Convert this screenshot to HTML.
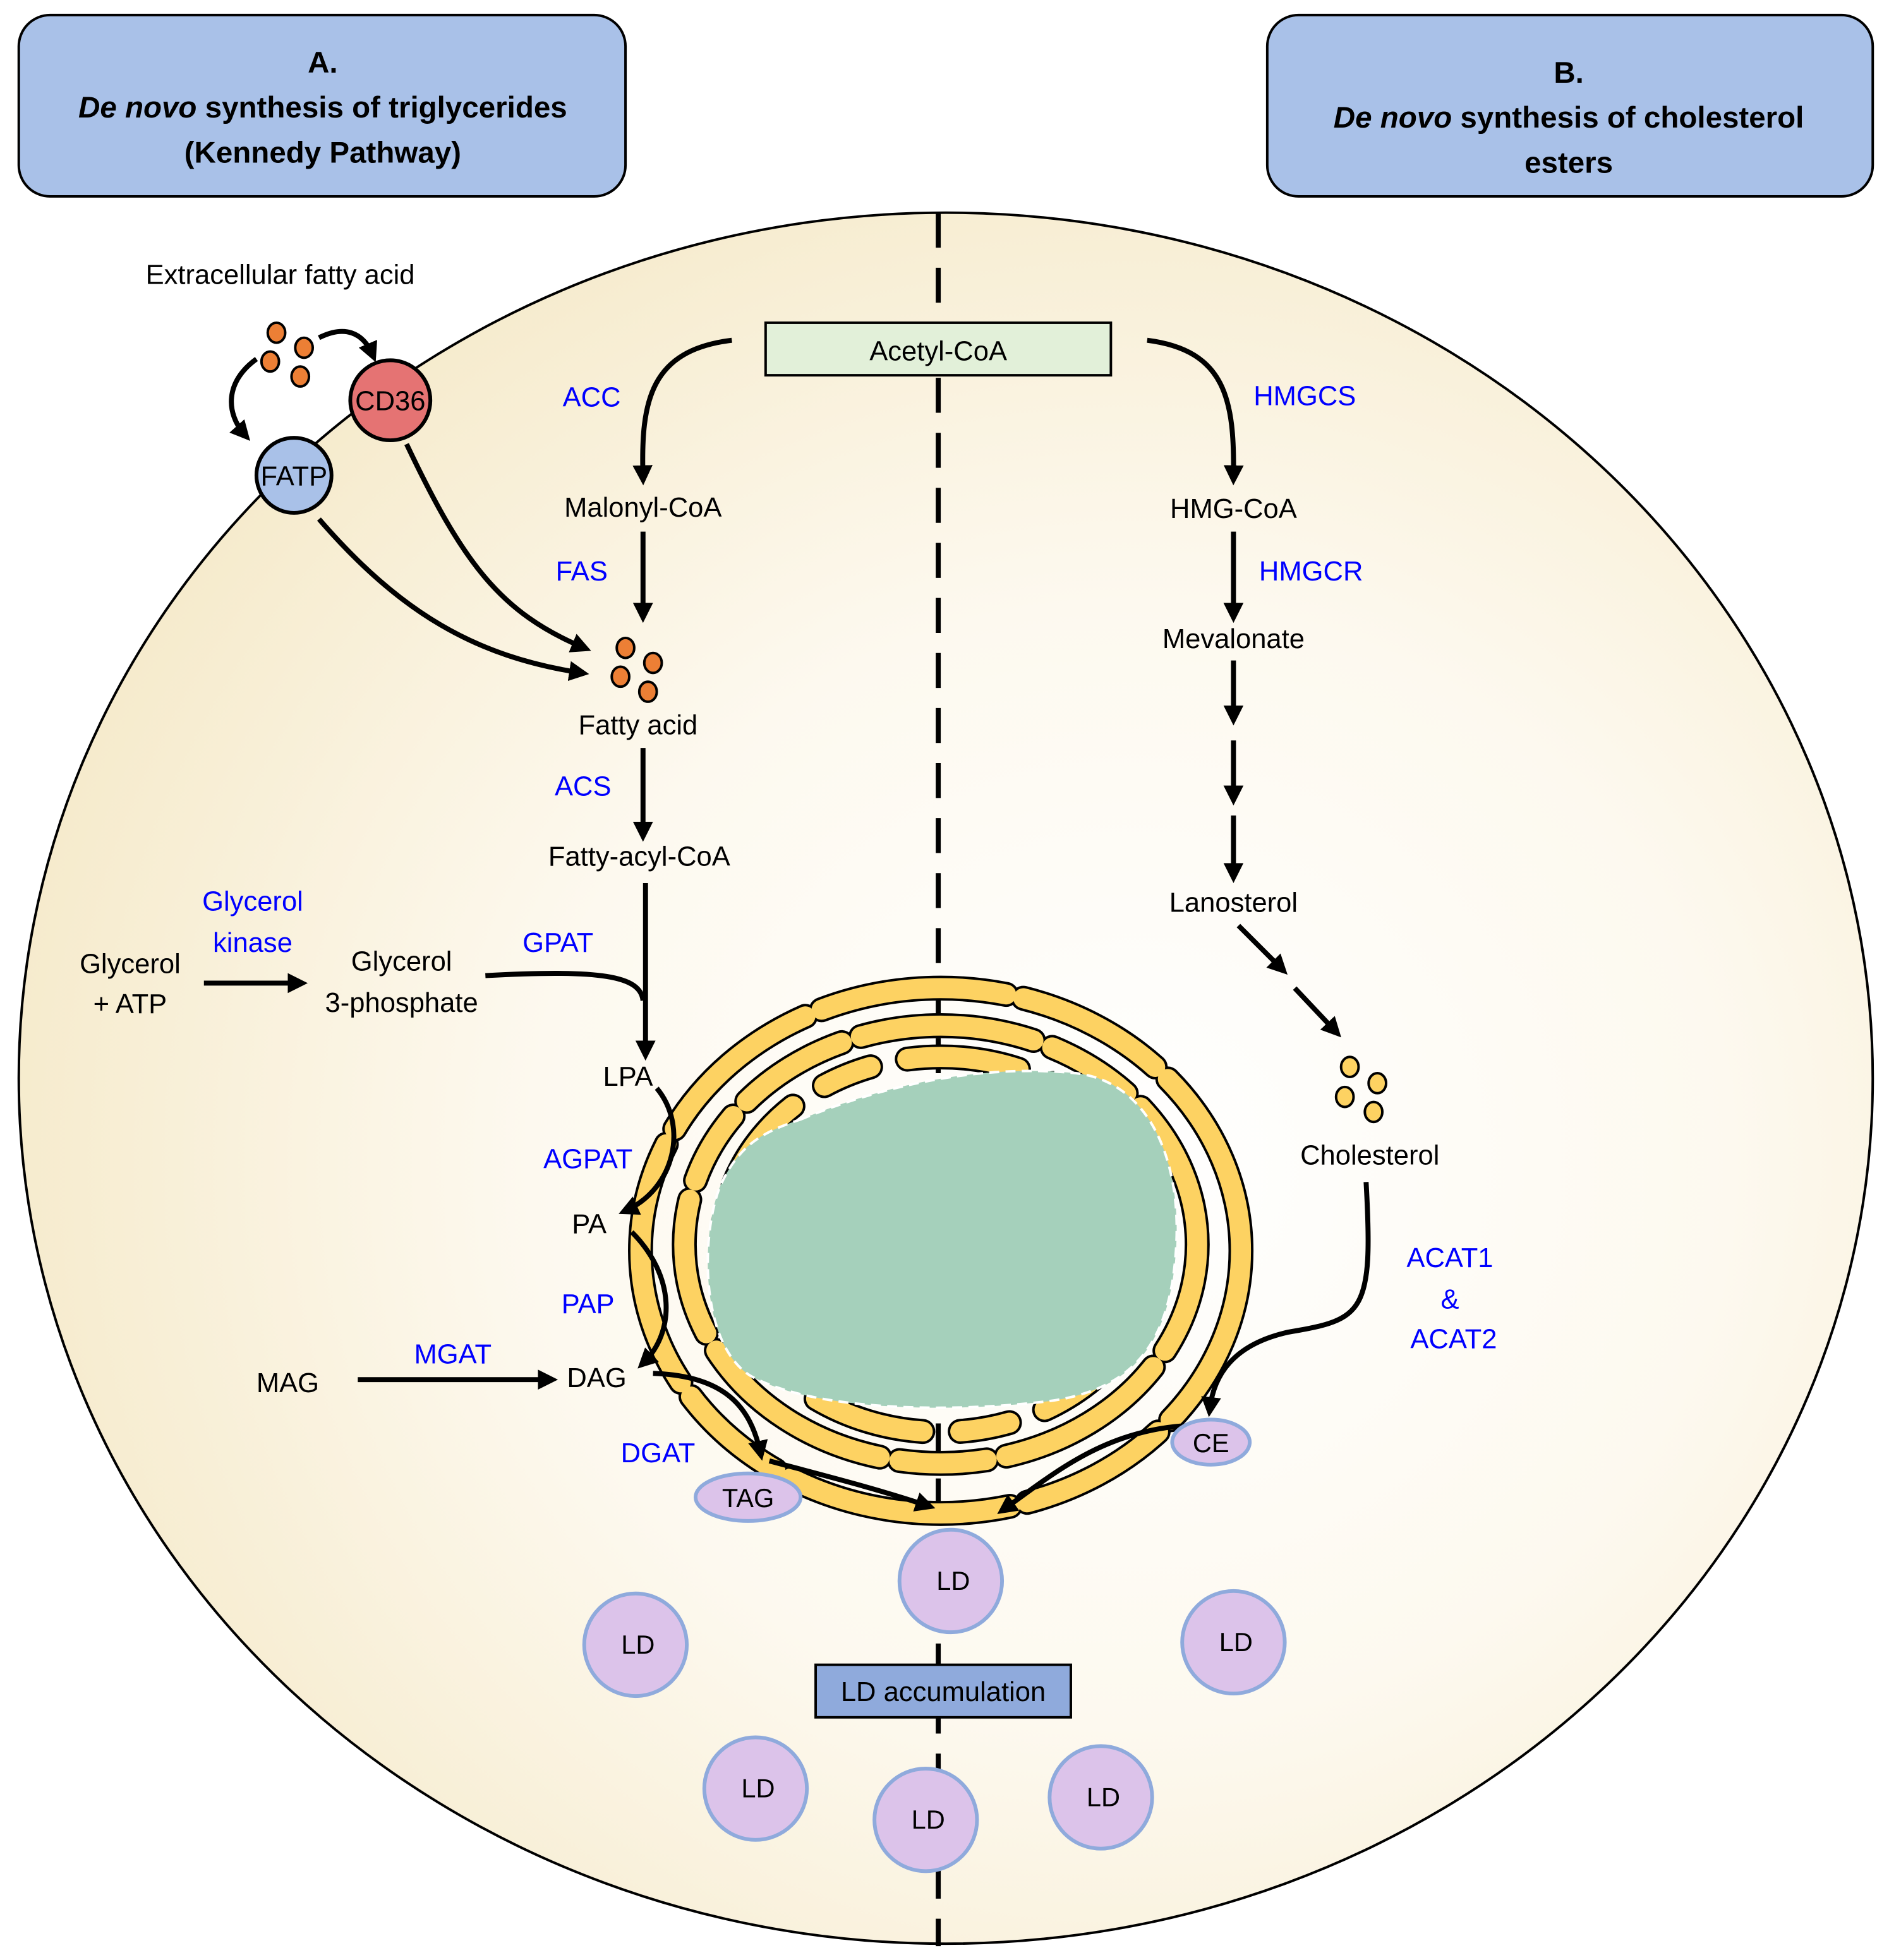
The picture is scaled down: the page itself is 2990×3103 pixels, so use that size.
<!DOCTYPE html>
<html><head><meta charset="utf-8"><style>
html,body{margin:0;padding:0;background:#fff;}
svg{display:block;}
text{font-family:"Liberation Sans","DejaVu Sans",sans-serif;}
</style></head><body>
<svg width="2990" height="3103" viewBox="0 0 1510 1567" xmlns="http://www.w3.org/2000/svg">
<defs>
<radialGradient id="cg" cx="0.6" cy="0.55" r="0.65">
<stop offset="0" stop-color="#ffffff"/><stop offset="0.5" stop-color="#fdf9ef"/><stop offset="1" stop-color="#f5e9c8"/>
</radialGradient>
<marker id="ah" markerWidth="4" markerHeight="4" refX="2.5" refY="2" orient="auto" markerUnits="strokeWidth">
<path d="M0,0 L4,2 L0,4 z" fill="#000"/></marker>
</defs>
<rect width="1510" height="1567" fill="#fff"/>
<rect x="15" y="12" width="485" height="145" rx="25" fill="#a9c1e8" stroke="#000" stroke-width="2"/>
<rect x="1013" y="12" width="484" height="145" rx="25" fill="#a9c1e8" stroke="#000" stroke-width="2"/>
<g font-size="24" font-weight="bold" text-anchor="middle" fill="#000">
<text x="258" y="58">A.</text>
<text x="258" y="94"><tspan font-style="italic">De novo</tspan> synthesis of triglycerides</text>
<text x="258" y="130">(Kennedy Pathway)</text>
<text x="1254" y="66">B.</text>
<text x="1254" y="102"><tspan font-style="italic">De novo</tspan> synthesis of cholesterol</text>
<text x="1254" y="138">esters</text>
</g>
<ellipse cx="756" cy="862" rx="741" ry="692" fill="url(#cg)" stroke="#000" stroke-width="2"/>
<line x1="750" y1="170" x2="750" y2="1556" stroke="#000" stroke-width="4" stroke-dasharray="28 16"/>

<g fill="none" stroke-linecap="round">
<g stroke="#000" stroke-width="20">
<ellipse cx="752" cy="1000" rx="240" ry="210" stroke-dasharray="150 14 120 14 180 14 90 14 200 14 140 14"/>
<ellipse cx="752" cy="995" rx="205" ry="175" stroke-dasharray="90 16 140 16 70 16 160 16 110 16 60 16"/>
<ellipse cx="752" cy="995" rx="175" ry="150" stroke-dasharray="60 30 80 30 40 30 90 30 50 30"/>
</g>
<g stroke="#fdd262" stroke-width="16">
<ellipse cx="752" cy="1000" rx="240" ry="210" stroke-dasharray="150 14 120 14 180 14 90 14 200 14 140 14"/>
<ellipse cx="752" cy="995" rx="205" ry="175" stroke-dasharray="90 16 140 16 70 16 160 16 110 16 60 16"/>
<ellipse cx="752" cy="995" rx="175" ry="150" stroke-dasharray="60 30 80 30 40 30 90 30 50 30"/>
</g>
</g>
<path d="M640,895 C700,870 780,850 860,858 C920,865 945,930 940,1000 C935,1070 910,1110 840,1120 C760,1130 650,1128 600,1100 C560,1075 560,990 575,950 C590,915 610,905 640,895 Z" fill="#a5d0bb" stroke="#fff" stroke-width="2" stroke-dasharray="8 5"/>

<rect x="612" y="258" width="276" height="42" fill="#e2f0d9" stroke="#000" stroke-width="2"/>
<text x="750" y="288" font-size="22" text-anchor="middle">Acetyl-CoA</text>

<g fill="none" stroke="#000" stroke-width="4">
<path d="M585,272 C520,280 512,320 514,382" marker-end="url(#ah)"/>
<path d="M917,272 C980,280 987,320 986,382" marker-end="url(#ah)"/>
<path d="M514,425 L514,492" marker-end="url(#ah)"/>
<path d="M514,598 L514,667" marker-end="url(#ah)"/>
<path d="M516,706 L516,842" marker-end="url(#ah)"/>
<path d="M388,780 C480,775 512,780 514,800"/>
<path d="M986,425 L986,492" marker-end="url(#ah)"/>
<path d="M986,528 L986,574" marker-end="url(#ah)"/>
<path d="M986,592 L986,638" marker-end="url(#ah)"/>
<path d="M986,652 L986,700" marker-end="url(#ah)"/>
<path d="M990,740 L1025,775" marker-end="url(#ah)"/>
<path d="M1035,790 L1068,825" marker-end="url(#ah)"/>
<path d="M163,786 L240,786" marker-end="url(#ah)"/>
<path d="M286,1103 L440,1103" marker-end="url(#ah)"/>
<path d="M525,870 C550,900 540,950 500,968" marker-end="url(#ah)"/>
<path d="M505,985 C540,1020 540,1065 514,1090" marker-end="url(#ah)"/>
<path d="M522,1098 C580,1100 600,1125 608,1162" marker-end="url(#ah)"/>
<path d="M615,1168 C660,1180 700,1190 742,1204" marker-end="url(#ah)"/>
<path d="M1092,945 C1098,1050 1090,1055 1030,1065 C985,1075 970,1100 967,1127" marker-end="url(#ah)"/>
<path d="M945,1140 C880,1145 840,1180 802,1207" marker-end="url(#ah)"/>
<path d="M325,355 C370,450 400,490 467,518" marker-end="url(#ah)"/>
<path d="M255,415 C320,490 380,525 465,538" marker-end="url(#ah)"/>
<path d="M255,270 C275,260 290,265 298,284" marker-end="url(#ah)"/>
<path d="M205,287 C180,305 180,330 196,348" marker-end="url(#ah)"/>
</g>

<g fill="#ec7f35" stroke="#000" stroke-width="2">
<ellipse cx="221" cy="266" rx="7" ry="8"/><ellipse cx="243" cy="278" rx="7" ry="8"/>
<ellipse cx="216" cy="289" rx="7" ry="8"/><ellipse cx="240" cy="301" rx="7" ry="8"/>
<ellipse cx="500" cy="518" rx="7" ry="8"/><ellipse cx="522" cy="530" rx="7" ry="8"/>
<ellipse cx="496" cy="541" rx="7" ry="8"/><ellipse cx="518" cy="553" rx="7" ry="8"/>
</g>
<g fill="#fdd262" stroke="#000" stroke-width="2">
<ellipse cx="1079" cy="853" rx="7" ry="8"/><ellipse cx="1101" cy="866" rx="7" ry="8"/>
<ellipse cx="1075" cy="877" rx="7" ry="8"/><ellipse cx="1098" cy="889" rx="7" ry="8"/>
</g>
<circle cx="312" cy="320" r="32" fill="#e57373" stroke="#000" stroke-width="3"/>
<text x="312" y="328" font-size="22" text-anchor="middle">CD36</text>
<circle cx="235" cy="380" r="30" fill="#a9c1e8" stroke="#000" stroke-width="3"/>
<text x="235" y="388" font-size="22" text-anchor="middle">FATP</text>

<ellipse cx="598" cy="1197" rx="42" ry="19" fill="#dcc3ea" stroke="#8faadc" stroke-width="3"/>
<text x="598" y="1205" font-size="21" text-anchor="middle">TAG</text>
<ellipse cx="968" cy="1153" rx="31" ry="18" fill="#dcc3ea" stroke="#8faadc" stroke-width="3"/>
<text x="968" y="1161" font-size="21" text-anchor="middle">CE</text>

<g fill="#dcc3ea" stroke="#8faadc" stroke-width="3">
<circle cx="760" cy="1264" r="41"/><circle cx="508" cy="1315" r="41"/><circle cx="986" cy="1313" r="41"/>
<circle cx="604" cy="1430" r="41"/><circle cx="740" cy="1455" r="41"/><circle cx="880" cy="1437" r="41"/>
</g>
<g font-size="21" text-anchor="middle">
<text x="762" y="1271">LD</text><text x="510" y="1322">LD</text><text x="988" y="1320">LD</text>
<text x="606" y="1437">LD</text><text x="742" y="1462">LD</text><text x="882" y="1444">LD</text>
</g>
<rect x="652" y="1331" width="204" height="42" fill="#8faadc" stroke="#000" stroke-width="2"/>
<text x="754" y="1360" font-size="22" text-anchor="middle">LD accumulation</text>

<g font-size="22" fill="#000" text-anchor="middle">
<text x="224" y="227">Extracellular fatty acid</text>
<text x="514" y="413">Malonyl-CoA</text>
<text x="510" y="587">Fatty acid</text>
<text x="511" y="692">Fatty-acyl-CoA</text>
<text x="104" y="778">Glycerol</text><text x="104" y="810">+ ATP</text>
<text x="321" y="776">Glycerol</text><text x="321" y="809">3-phosphate</text>
<text x="502" y="868">LPA</text>
<text x="471" y="986">PA</text>
<text x="477" y="1109">DAG</text>
<text x="230" y="1113">MAG</text>
<text x="986" y="414">HMG-CoA</text>
<text x="986" y="518">Mevalonate</text>
<text x="986" y="729">Lanosterol</text>
<text x="1095" y="931">Cholesterol</text>
</g>
<g font-size="22" fill="#0000ff" text-anchor="middle">
<text x="473" y="325">ACC</text>
<text x="465" y="464">FAS</text>
<text x="466" y="636">ACS</text>
<text x="202" y="728">Glycerol</text><text x="202" y="761">kinase</text>
<text x="446" y="761">GPAT</text>
<text x="470" y="934">AGPAT</text>
<text x="470" y="1050">PAP</text>
<text x="362" y="1090">MGAT</text>
<text x="526" y="1169">DGAT</text>
<text x="1043" y="324">HMGCS</text>
<text x="1048" y="464">HMGCR</text>
<text x="1159" y="1013">ACAT1</text><text x="1159" y="1046">&amp;</text><text x="1162" y="1078">ACAT2</text>
</g>
</svg>
</body></html>
